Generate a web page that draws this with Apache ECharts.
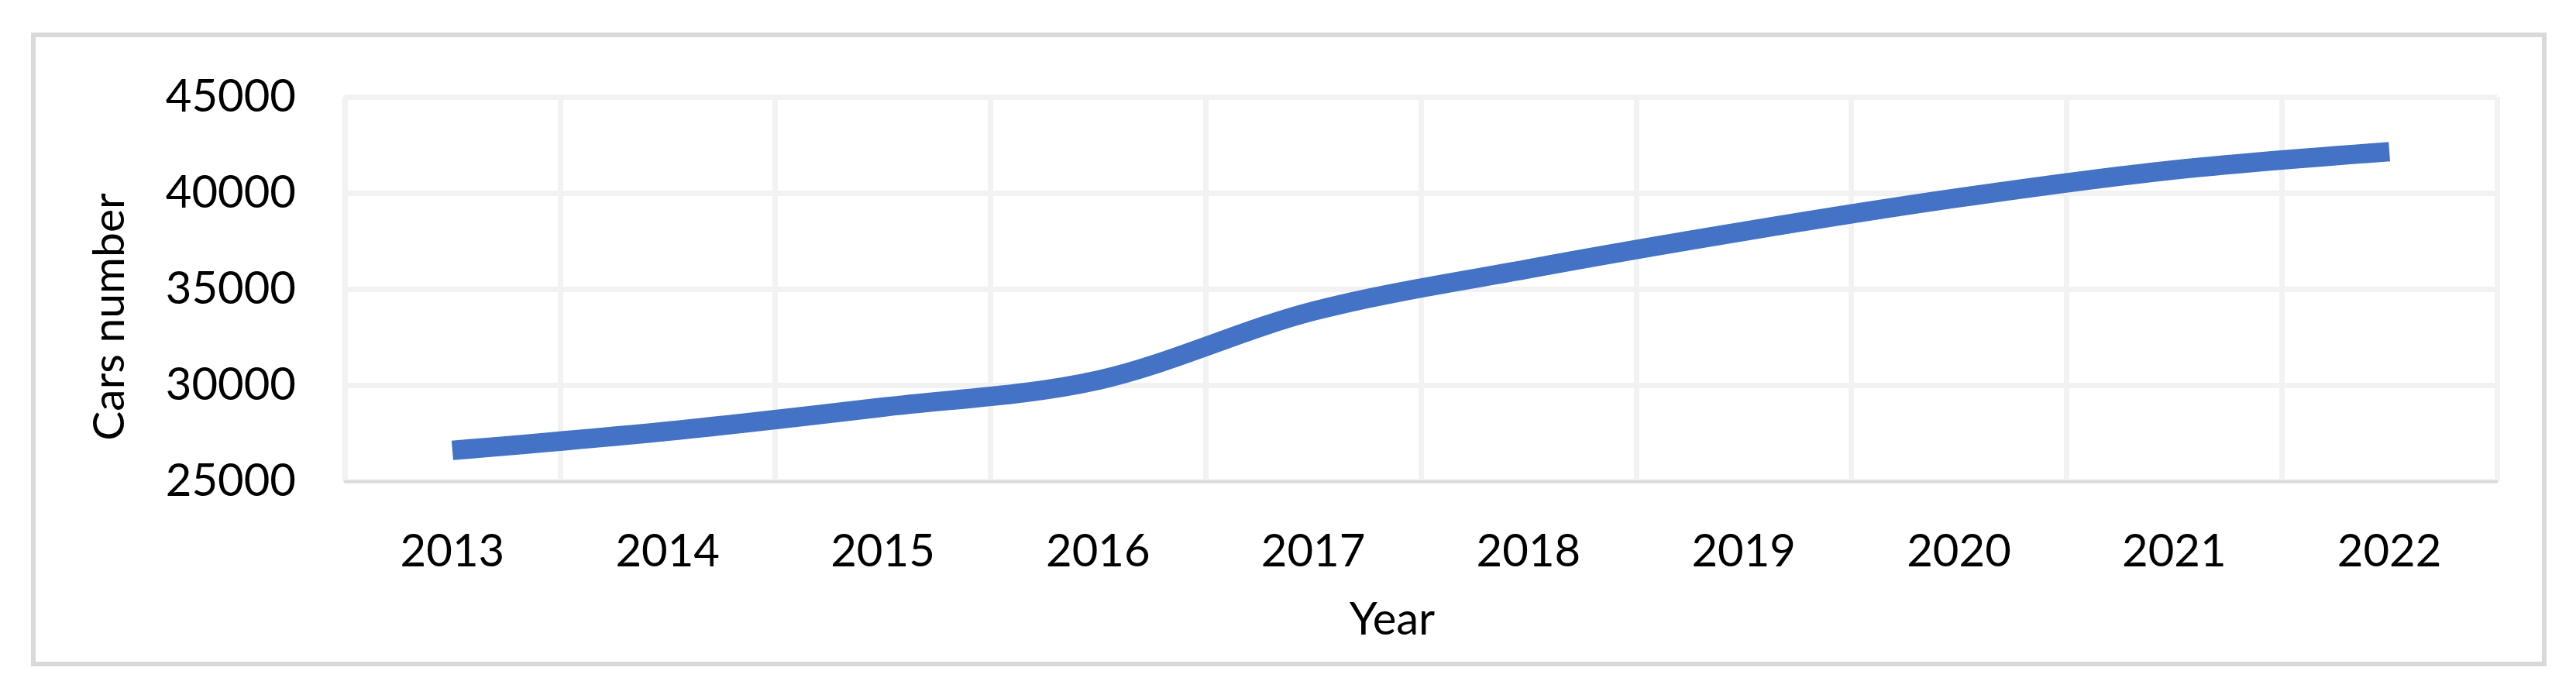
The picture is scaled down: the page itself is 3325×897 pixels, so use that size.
<!DOCTYPE html>
<html>
<head>
<meta charset="utf-8">
<script src="https://cdn.jsdelivr.net/npm/echarts@6/dist/echarts.min.js"></script>
<style>
  html, body { margin: 0; padding: 0; background: #fff; }
  #chart { width: 3325px; height: 897px; }
</style>
</head>
<body>
<div id="chart"></div>
<script>
// 数据
var years = ['2013', '2014', '2015', '2016', '2017', '2018', '2019', '2020', '2021', '2022'];
var carsNumber = [26600, 27600, 28850, 30250, 33850, 36050, 38000, 39750, 41200, 42150];
var yTicks = { min: 25000, max: 45000, step: 5000 };

var font = 'Lato, "Open Sans", sans-serif';
var myChart = echarts.init(document.getElementById('chart'));
var option = {
    backgroundColor: '#ffffff',
    animation: false,
    // 外框
    graphic: [{
        type: 'rect',
        shape: { x: 43, y: 45, width: 3241, height: 812 },
        style: { fill: 'none', stroke: '#d9d9d9', lineWidth: 6 }
    }],
    grid: { left: 445, right: 102, top: 125, bottom: 276 },
    xAxis: {
        type: 'category',
        data: years,
        boundaryGap: true,
        name: 'Year',
        nameLocation: 'middle',
        nameGap: 150,
        nameTextStyle: { fontFamily: font, fontSize: 58, color: '#000', padding: [0, 74, 0, 0] },
        axisLine: { lineStyle: { color: '#d9d9d9', width: 3 } },
        axisTick: { show: false },
        axisLabel: { fontFamily: font, fontSize: 58, color: '#000', margin: 62 },
        splitLine: { show: true, lineStyle: { color: '#f2f2f2', width: 7 } }
    },
    yAxis: {
        type: 'value',
        min: yTicks.min,
        max: yTicks.max,
        interval: yTicks.step,
        name: 'Cars number',
        nameLocation: 'middle',
        nameRotate: 90,
        nameGap: 275,
        nameTextStyle: { fontFamily: font, fontSize: 57, color: '#000', padding: [0, 72, 0, 0] },
        axisLine: { show: false },
        axisTick: { show: false },
        axisLabel: {
            fontFamily: font, fontSize: 58, color: '#000', margin: 63,
            formatter: function (v) { return String(v); }
        },
        splitLine: { lineStyle: { color: '#f2f2f2', width: 7 } }
    },
    series: [{
        type: 'line',
        data: carsNumber,
        smooth: 0.33,
        showSymbol: false,
        lineStyle: { color: '#4472c4', width: 25, cap: 'butt' }
    }]
};
myChart.setOption(option);
</script>
</body>
</html>
